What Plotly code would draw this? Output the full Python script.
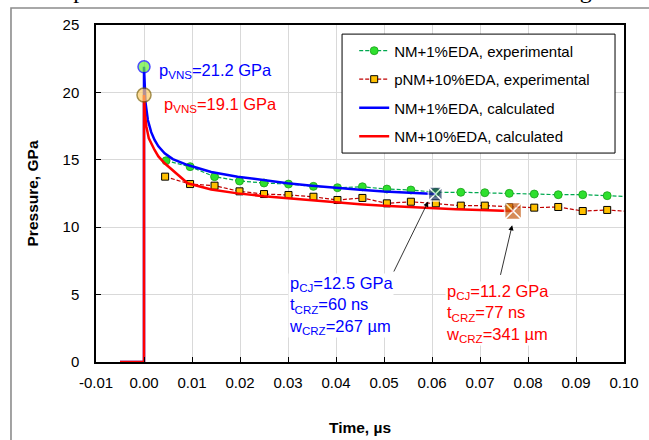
import plotly.graph_objects as go

# ---- data ----
exp1_t = [0.0046, 0.0096, 0.0147, 0.0199, 0.0250, 0.0301, 0.0353, 0.0403, 0.0455, 0.0506,
          0.0556, 0.0608, 0.0660, 0.0710, 0.0761, 0.0813, 0.0863, 0.0914, 0.0965, 0.1015]
exp1_p = [14.93, 14.49, 13.75, 13.43, 13.28, 13.20, 13.03, 12.93, 13.00, 12.83,
          12.76, 12.59, 12.59, 12.56, 12.51, 12.46, 12.41, 12.41, 12.34, 12.26]

exp10_t = [0.0044, 0.0096, 0.0147, 0.0199, 0.0250, 0.0301, 0.0353, 0.0403, 0.0455, 0.0506,
           0.0556, 0.0608, 0.0660, 0.0710, 0.0761, 0.0813, 0.0863, 0.0914, 0.0965, 0.1015]
exp10_p = [13.75, 13.20, 13.08, 12.66, 12.46, 12.39, 12.26, 12.02, 12.17, 11.77,
           11.89, 11.77, 11.60, 11.60, 11.50, 11.45, 11.50, 11.20, 11.28, 11.15]

calc1_t = [-0.005, 0.0, 0.0, 0.0003, 0.0008, 0.0015, 0.0022, 0.0030, 0.0043, 0.0060,
           0.0091, 0.0140, 0.0195, 0.0250, 0.0299, 0.0350, 0.0396, 0.0450, 0.0500, 0.0554, 0.0607]
calc1_p = [0.0, 0.0, 21.9, 19.3, 17.95, 17.05, 16.47, 16.0, 15.48, 15.05,
           14.61, 14.10, 13.75, 13.48, 13.26, 13.08, 12.93, 12.78, 12.65, 12.53, 12.46]

calc10_t = [-0.005, 0.0, 0.0, 0.0002, 0.0005, 0.0010, 0.0022, 0.0030, 0.0043, 0.0060,
            0.0091, 0.0140, 0.0195, 0.0250, 0.0299, 0.0350, 0.0396, 0.0450, 0.0500,
            0.0554, 0.0600, 0.0650, 0.0700, 0.0769]
calc10_p = [0.0, 0.0, 19.8, 18.4, 17.46, 16.6, 15.73, 15.25, 14.74, 14.20,
            13.26, 12.80, 12.51, 12.30, 12.14, 11.98, 11.84, 11.70, 11.59,
            11.48, 11.41, 11.34, 11.28, 11.20]

vns_t = [0.0, 0.0]
vns_p = [21.9, 19.8]
cj_t = [0.0607, 0.0769]
cj_p = [12.46, 11.20]

x_ticks = [-0.01, 0.0, 0.01, 0.02, 0.03, 0.04, 0.05, 0.06, 0.07, 0.08, 0.09, 0.10]
x_tick_labels = ["-0.01", "0.00", "0.01", "0.02", "0.03", "0.04", "0.05", "0.06",
                 "0.07", "0.08", "0.09", "0.10"]
y_ticks = [0, 5, 10, 15, 20, 25]

FONT = "Liberation Sans, Arial, sans-serif"

fig = go.Figure()

fig.add_trace(go.Scatter(
    x=exp1_t, y=exp1_p, mode="lines+markers", name="NM+1%EDA, experimental",
    line=dict(color="#00a84f", width=1.2, dash="4px,2px"),
    marker=dict(symbol="circle", size=8, color="#2ee02e", line=dict(color="#1a9e1a", width=0.8)),
    legendgroup="a"))
fig.add_trace(go.Scatter(
    x=exp10_t, y=exp10_p, mode="lines+markers", name="pNM+10%EDA, experimental",
    line=dict(color="#c00000", width=1.2, dash="4px,2px"),
    marker=dict(symbol="square", size=7, color="#ffc000", line=dict(color="black", width=1)),
    legendgroup="b"))
fig.add_trace(go.Scatter(
    x=calc1_t, y=calc1_p, mode="lines", name="NM+1%EDA, calculated",
    line=dict(color="#0000ff", width=2.5), legendgroup="c"))
fig.add_trace(go.Scatter(
    x=calc10_t, y=calc10_p, mode="lines", name="NM+10%EDA, calculated",
    line=dict(color="#ff0000", width=2.5), legendgroup="d"))

# peak (VNS) markers
fig.add_trace(go.Scatter(
    x=vns_t, y=vns_p, mode="markers", showlegend=False,
    marker=dict(symbol="circle", size=[12, 14], color=["#66ee33", "#ffcc66"],
                line=dict(color=["#0000ff", "#7f6000"], width=1.5))))
# CJ markers
fig.add_trace(go.Scatter(
    x=cj_t, y=cj_p, mode="markers", showlegend=False,
    marker=dict(symbol="square-x", size=[14, 17], color=["#1f3864", "#c55a11"],
                line=dict(color="white", width=1.6))))

ann = []
ann.append(dict(x=0.0028, y=21.6, xref="x", yref="y", xanchor="left", yanchor="middle",
                text="p<sub>VNS</sub>=21.2 GPa", showarrow=False,
                font=dict(family=FONT, size=16.5, color="#0000ff")))
ann.append(dict(x=0.0037, y=19.1, xref="x", yref="y", xanchor="left", yanchor="middle",
                text="p<sub>VNS</sub>=19.1 GPa", showarrow=False,
                font=dict(family=FONT, size=16.5, color="#ff0000")))
ann.append(dict(x=0.0300, y=4.2, xref="x", yref="y", xanchor="left", yanchor="middle",
                text="p<sub>CJ</sub>=12.5 GPa<br>t<sub>CRZ</sub>=60 ns<br>w<sub>CRZ</sub>=267 \u00b5m",
                align="left", showarrow=False, bgcolor="white", borderpad=0,
                font=dict(family=FONT, size=16.5, color="#0000ff")))
ann.append(dict(x=0.0627, y=3.6, xref="x", yref="y", xanchor="left", yanchor="middle",
                text="p<sub>CJ</sub>=11.2 GPa<br>t<sub>CRZ</sub>=77 ns<br>w<sub>CRZ</sub>=341 \u00b5m",
                align="left", showarrow=False, bgcolor="white", borderpad=0,
                font=dict(family=FONT, size=16.5, color="#ff0000")))
# arrows
ann.append(dict(x=0.0592, y=11.9, ax=0.0519, ay=6.6, xref="x", yref="y", axref="x", ayref="y",
                text="", showarrow=True, arrowhead=2, arrowsize=1.3, arrowwidth=0.8,
                arrowcolor="black"))
ann.append(dict(x=0.0767, y=10.15, ax=0.0742, ay=6.35, xref="x", yref="y", axref="x", ayref="y",
                text="", showarrow=True, arrowhead=2, arrowsize=1.3, arrowwidth=0.8,
                arrowcolor="black"))
# cropped caption text at top of picture
ann.append(dict(x=1.045, y=1.104, xref="paper", yref="paper", xanchor="right", yanchor="middle",
                text="The parameters within NM reaction zone are shown in Figure 3.",
                showarrow=False, font=dict(family="Liberation Serif, Times New Roman, serif",
                                           size=24, color="black")))

shapes = [
    dict(type="rect", xref="paper", yref="paper", x0=-0.161, y0=-0.25, x1=1.12, y1=1.0504,
         line=dict(color="#8c8c8c", width=1.6), fillcolor="rgba(0,0,0,0)", layer="below"),
    # legend frame
    dict(type="rect", xref="paper", yref="paper", x0=0.466, y0=0.620, x1=0.983, y1=0.973,
         line=dict(color="black", width=1), fillcolor="white", layer="above"),
]

fig.update_layout(
    width=649, height=440,
    margin=dict(l=96, r=25, t=25, b=78),
    paper_bgcolor="white", plot_bgcolor="white",
    font=dict(family=FONT, size=15, color="black"),
    showlegend=True,
    legend=dict(x=0.489, y=0.972, xanchor="left", yanchor="top",
                bgcolor="rgba(0,0,0,0)", borderwidth=0,
                font=dict(family=FONT, size=15, color="black"),
                traceorder="grouped", tracegroupgap=6, itemwidth=30),
    annotations=ann, shapes=shapes,
)
fig.update_xaxes(range=[-0.01, 0.10], tickvals=x_ticks, ticktext=x_tick_labels,
                 ticks="inside", ticklen=5, tickcolor="black", tickwidth=1,
                 showline=True, linecolor="black", linewidth=1.5, mirror=True,
                 showgrid=True, gridcolor="#d9d9d9", gridwidth=1, zeroline=False,
                 tickfont=dict(family=FONT, size=15), ticklabelstandoff=6, automargin=False,
                 title=dict(text="<b>Time, \u00b5s</b>", font=dict(family=FONT, size=15.5), standoff=32))
fig.update_yaxes(range=[0, 25], tickvals=y_ticks,
                 ticks="inside", ticklen=5, tickcolor="black", tickwidth=1,
                 showline=True, linecolor="black", linewidth=1.5, mirror=True,
                 showgrid=True, gridcolor="#d9d9d9", gridwidth=1, zeroline=False,
                 tickfont=dict(family=FONT, size=15), ticklabelstandoff=12, automargin=False,
                 title=dict(text="<b>Pressure, GPa</b>", font=dict(family=FONT, size=15.5), standoff=20))

fig.write_html("out.html")
